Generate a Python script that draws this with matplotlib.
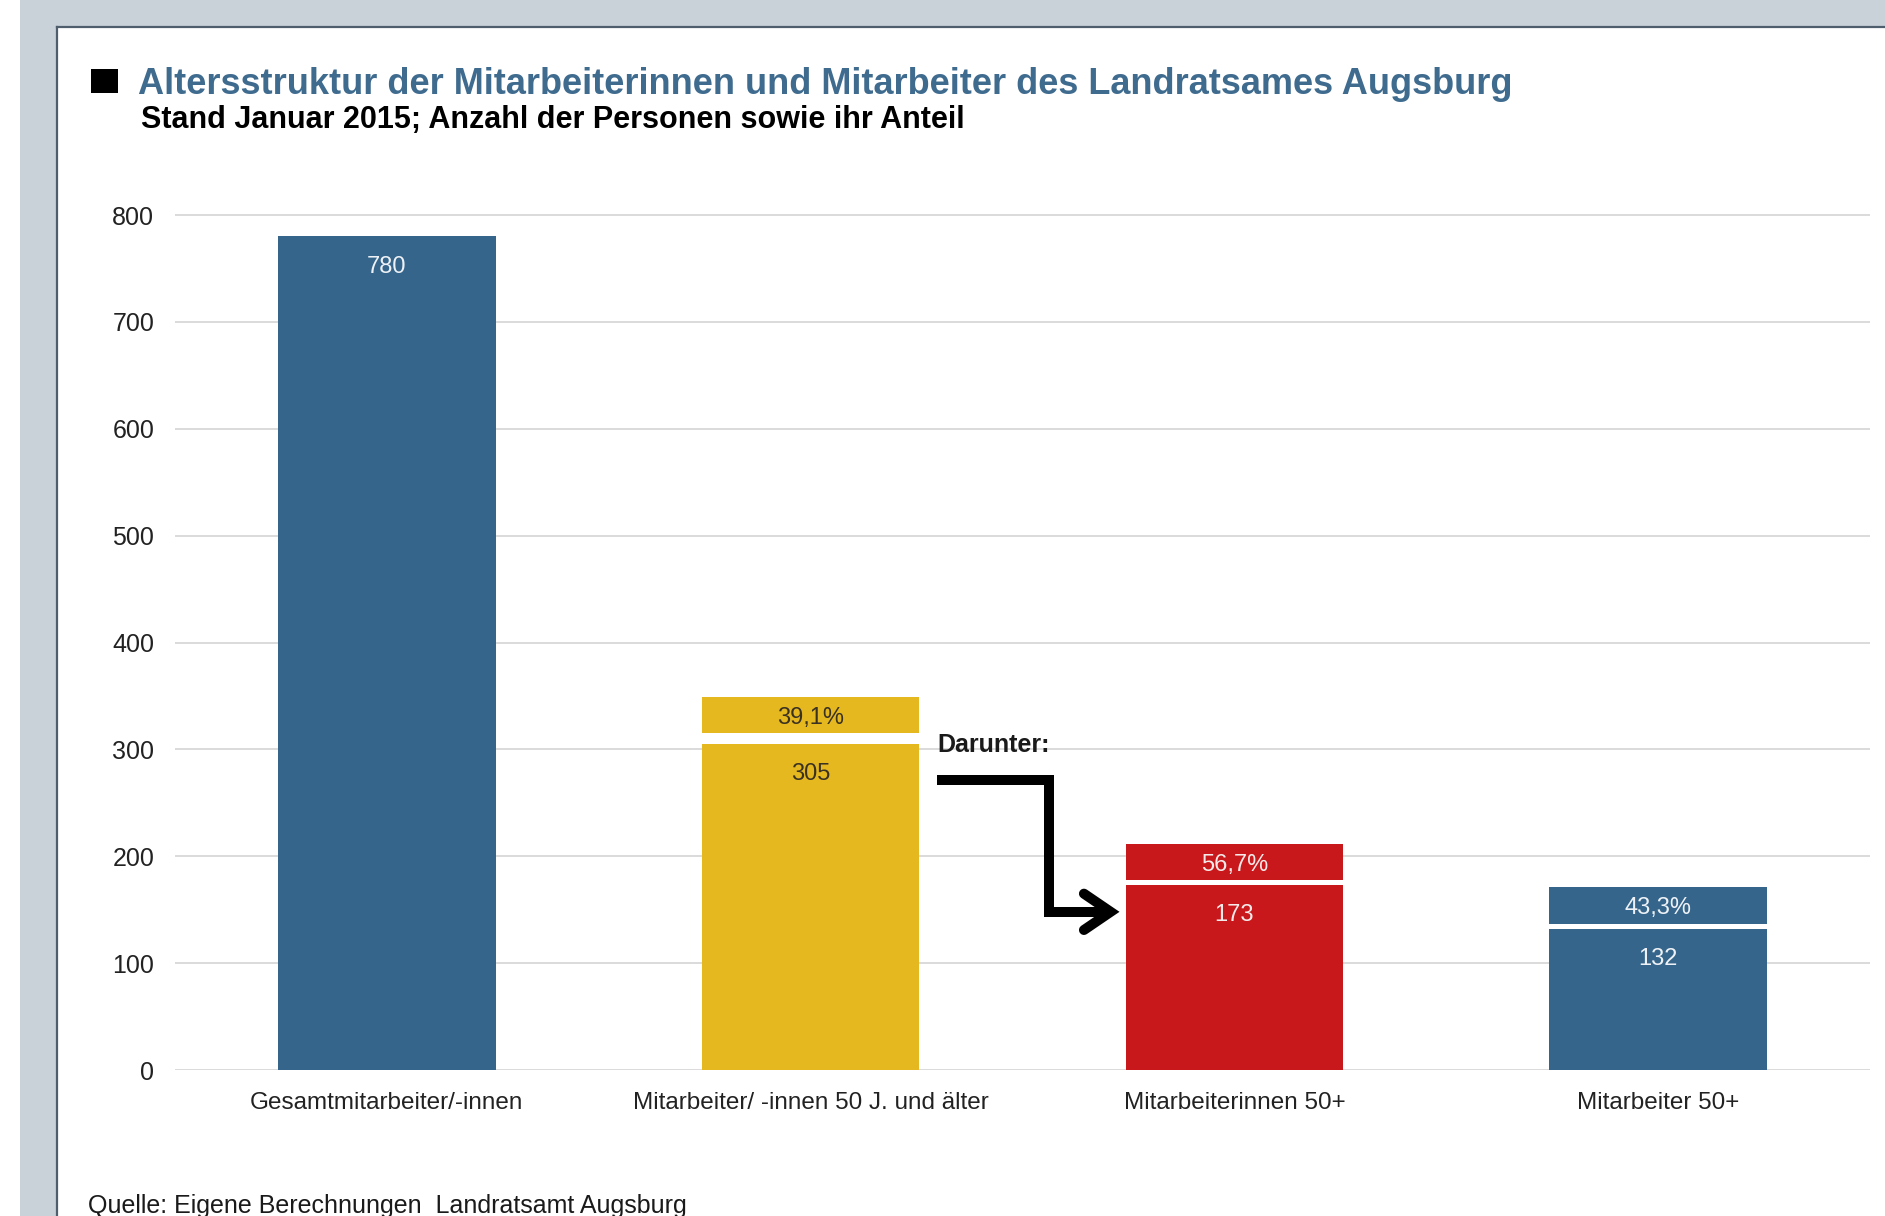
import matplotlib
matplotlib.use('Agg')
import matplotlib.pyplot as plt
from matplotlib.patches import Rectangle
from matplotlib.lines import Line2D

####################### DATA #######################
categories = ['Gesamtmitarbeiter/-innen', 'Mitarbeiter/ -innen 50 J. und älter',
              'Mitarbeiterinnen 50+', 'Mitarbeiter 50+']
values = [780, 305, 173, 132]
shares = [None, 39.1, 56.7, 43.3]   # percent
yticks = [0, 100, 200, 300, 400, 500, 600, 700, 800]
title = 'Altersstruktur der Mitarbeiterinnen und Mitarbeiter des Landratsames Augsburg'
subtitle = 'Stand Januar 2015; Anzahl der Personen sowie ihr Anteil'
source = 'Quelle: Eigene Berechnungen  Landratsamt Augsburg'
#####################################################################

####################### STYLE #######################
colors = ['#35658b', '#e6b820', '#c9181c', '#35658b']
txtColors = ['#eef2f6', '#3a3222', '#f6eaea', '#eef2f6']
gaps = [0, 10, 4.5, 5]   # white gap between value bar and share band
band = 34               # height of share band
barWidth = 0.513
W, H = 1885, 1216
fnt = 'Liberation Sans'
#####################################################################

plt.rcParams['font.family'] = [fnt, 'DejaVu Sans']

fig = plt.figure(figsize=(W/100, H/100), dpi=100)
fig.patch.set_facecolor('white')

# BACKGROUND PANELS (below the axes)
fig.patches.append(Rectangle((20/W, 0), 1, 1, transform=fig.transFigure,
                             fc='#c9d1d9', ec='none', zorder=-3))
fig.patches.append(Rectangle((57/W, 0), 1, 1-27/H, transform=fig.transFigure,
                             fc='white', ec='none', zorder=-2))
fig.lines.append(Line2D([57/W, 57/W], [0, 1-27/H], transform=fig.transFigure,
                        color='#4f5e6c', lw=1.6, zorder=-1))
fig.lines.append(Line2D([57/W, 1], [1-27/H, 1-27/H], transform=fig.transFigure,
                        color='#4f5e6c', lw=1.6, zorder=-1))

# TITLE
fig.patches.append(Rectangle((91/W, 1-93/H), 27/W, 24/H, transform=fig.transFigure,
                             fc='black', ec='none', zorder=1))
fig.text(138/W, 1-85/H, title, fontsize=26, weight='bold', color='#3f6b8f',
         va='center', ha='left')
fig.text(141/W, 1-120/H, subtitle, fontsize=22, weight='bold', color='black',
         va='center', ha='left')
fig.text(88/W, 1-1206/H, source, fontsize=18, color='#1a1a1a',
         va='center', ha='left')

# AXES (0 at y=1070px, 100 units = 106.9px)
ppu = 106.87/100
ymax = 812
bot = 1 - 1070/H
ax = fig.add_axes([175/W, bot, 1695/W, ymax*ppu/H])
ax.set_xlim(-0.5, 3.5)
ax.set_ylim(0, ymax)
for s in ax.spines.values():
    s.set_visible(False)
ax.set_facecolor('none')
ax.set_yticks(yticks)
ax.yaxis.grid(True, color='#dadada', lw=1.4)
ax.set_axisbelow(True)
ax.tick_params(axis='y', length=0, pad=15, labelsize=18, labelcolor='#222222')
ax.set_xticks(range(len(categories)))
ax.set_xticklabels(categories)
ax.tick_params(axis='x', length=0, pad=16, labelsize=17.5, labelcolor='#222222')

# BARS
for i, val in enumerate(values):
    ax.bar(i, val, width=barWidth, color=colors[i], zorder=2)
    ax.annotate(str(val), xy=(i, val), xytext=(0, -20), textcoords='offset points',
                ha='center', va='center_baseline', fontsize=17, color=txtColors[i],
                zorder=3)
    if shares[i] is not None:
        b0 = val + gaps[i]
        ax.bar(i, band, bottom=b0, width=barWidth, color=colors[i], zorder=2)
        lab = ('%.1f' % shares[i]).replace('.', ',') + '%'
        ax.text(i, b0 + band/2, lab, ha='center', va='center_baseline', fontsize=17,
                color=txtColors[i], zorder=3)

# ARROW "DARUNTER"
ax.text(1.298, 304, 'Darunter:', fontsize=18, weight='bold', color='#1a1a1a',
        ha='left', va='center')
ax.plot([1.298, 1.563, 1.563, 1.700], [271, 271, 148, 148], color='black', lw=7.2,
        solid_joinstyle='miter', solid_capstyle='butt', zorder=4)
ax.plot([1.645, 1.708, 1.645], [165, 148, 131], color='black', lw=7.2,
        solid_joinstyle='miter', solid_capstyle='round', zorder=4)

fig.savefig('out.png', dpi=100)
